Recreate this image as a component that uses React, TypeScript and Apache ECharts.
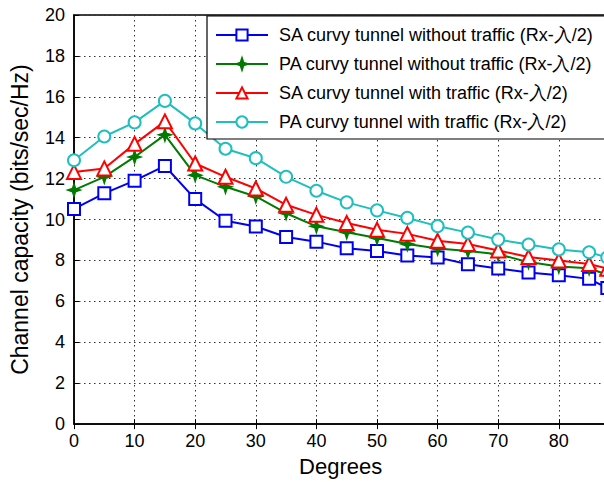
import React, { useEffect, useRef } from "react";
import * as echarts from "echarts";

const degrees = [0, 5, 10, 15, 20, 25, 30, 35, 40, 45, 50, 55, 60, 65, 70, 75, 80, 85, 88];
const saNoTraffic = [10.52, 11.28, 11.9, 12.62, 11.0, 9.94, 9.66, 9.15, 8.92, 8.6, 8.46, 8.24, 8.15, 7.81, 7.61, 7.41, 7.28, 7.1, 6.65];
const paNoTraffic = [11.44, 12.09, 13.06, 14.14, 12.17, 11.6, 11.13, 10.31, 9.67, 9.38, 9.1, 8.8, 8.58, 8.46, 8.3, 7.92, 7.7, 7.62, 7.3];
const saTraffic = [12.33, 12.5, 13.7, 14.8, 12.74, 12.09, 11.52, 10.72, 10.23, 9.83, 9.5, 9.3, 8.96, 8.8, 8.49, 8.17, 8.0, 7.83, 7.6];
const paTraffic = [12.9, 14.06, 14.75, 15.8, 14.7, 13.46, 13.0, 12.09, 11.41, 10.84, 10.45, 10.08, 9.68, 9.36, 9.02, 8.78, 8.54, 8.4, 8.15];

const seriesNames = [
  "SA curvy tunnel without traffic (Rx-入/2)",
  "PA curvy tunnel without traffic (Rx-入/2)",
  "SA curvy tunnel with traffic (Rx-入/2)",
  "PA curvy tunnel with traffic (Rx-入/2)",
];

const FONT = "'Liberation Sans', Arial, Helvetica, sans-serif";
const STAR = "path://M0,-10 L2.5,-2.5 L10,0 L2.5,2.5 L0,10 L-2.5,2.5 L-10,0 L-2.5,-2.5Z";

export default function App() {
  const ref = useRef<HTMLDivElement>(null);
  useEffect(() => {
    document.body.style.margin = "0";
    document.body.style.overflow = "hidden";
    document.documentElement.style.overflow = "hidden";
    const chart = echarts.init(ref.current!, null, { renderer: "svg" });
    const mk = (vals: number[]) => degrees.map((d, i) => [d, vals[i]]);
    const lineSeries = (name: string, vals: number[], color: string, symbol: string, size: number, filled: boolean) => ({
      name,
      type: "line",
      data: mk(vals),
      symbol,
      symbolSize: size,
      showAllSymbol: true,
      clip: false,
      lineStyle: { color, width: 2 },
      itemStyle: { color: filled ? color : "#fff", borderColor: color, borderWidth: 2 },
    });
    chart.setOption({
      animation: false,
      backgroundColor: "#fff",
      textStyle: { fontFamily: FONT },
      grid: { left: 70.5, top: 15, width: 536.8, height: 413, show: true, borderColor: "#000", borderWidth: 1.5, backgroundColor: "transparent" },
      legend: {
        orient: "vertical",
        left: 207,
        top: 16,
        padding: [10, 12, 8, 8],
        itemWidth: 52,
        itemHeight: 14,
        itemGap: 11,
        backgroundColor: "#fff",
        borderColor: "#000",
        borderWidth: 1.2,
        textStyle: { fontSize: 18, color: "#000", fontFamily: FONT, padding: [0, 0, 0, 6] },
        data: seriesNames,
      },
      xAxis: [
        {
          type: "value",
          min: 0,
          max: 88,
          interval: 10,
          name: "Degrees",
          nameLocation: "middle",
          nameGap: 28,
          nameTextStyle: { fontSize: 22, color: "#000", fontFamily: FONT },
          axisLine: { onZero: false, lineStyle: { color: "#000", width: 1.5 } },
          axisTick: { inside: true, length: 5, lineStyle: { color: "#000" } },
          axisLabel: { fontSize: 18, color: "#000", margin: 8, fontFamily: FONT, showMaxLabel: false },
          splitLine: { show: true, lineStyle: { color: "#333", type: [1.5, 3.5], width: 1 } },
        },
        {
          type: "value",
          position: "top",
          min: 0,
          max: 88,
          interval: 10,
          axisLine: { show: false },
          axisTick: { inside: true, length: 5, lineStyle: { color: "#000" } },
          axisLabel: { show: false },
          splitLine: { show: false },
        },
      ],
      yAxis: {
        type: "value",
        min: 0,
        max: 20,
        interval: 2,
        name: "Channel capacity (bits/sec/Hz)",
        nameLocation: "middle",
        nameGap: 43,
        nameTextStyle: { fontSize: 23, color: "#000", fontFamily: FONT },
        axisLine: { show: true, onZero: false, lineStyle: { color: "#000", width: 1.5 } },
        axisTick: { inside: true, length: 5, lineStyle: { color: "#000" } },
        axisLabel: { fontSize: 18, color: "#000", margin: 9, fontFamily: FONT },
        splitLine: { show: true, lineStyle: { color: "#333", type: [1.5, 3.5], width: 1 } },
      },
      series: [
        lineSeries(seriesNames[0], saNoTraffic, "#0000f0", "rect", 12, false),
        lineSeries(seriesNames[1], paNoTraffic, "#007a00", STAR, 11, true),
        lineSeries(seriesNames[2], saTraffic, "#ff0000", "triangle", 14, false),
        lineSeries(seriesNames[3], paTraffic, "#1fbfbf", "circle", 12, false),
      ],
    });
    return () => chart.dispose();
  }, []);
  return <div ref={ref} style={{ width: 612, height: 482 }} />;
}
